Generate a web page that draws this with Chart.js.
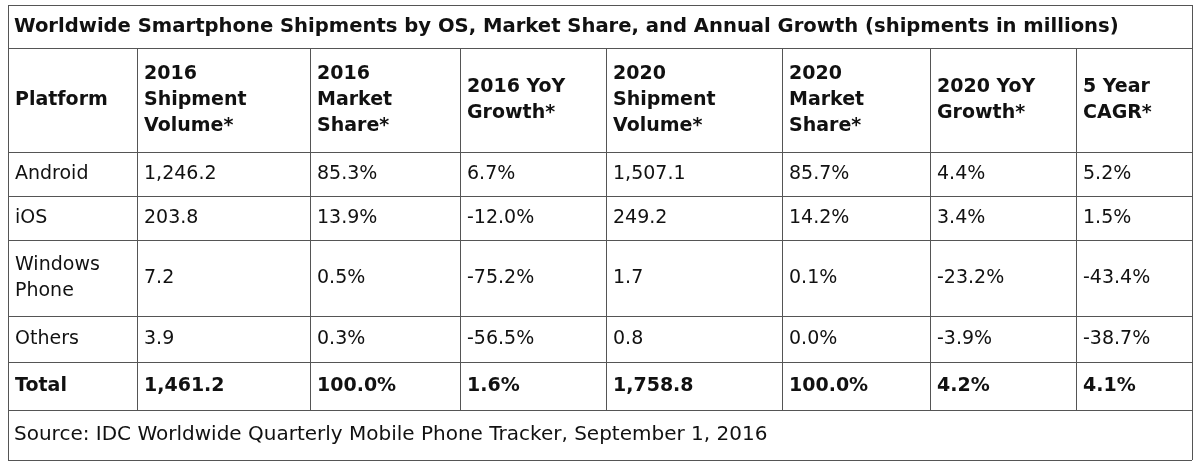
<!DOCTYPE html>
<html>
<head>
<meta charset="utf-8">
<script src="https://cdn.jsdelivr.net/npm/chart.js@4"></script>
<style>
  body { margin: 0; background: #fff; }
  canvas { display: block; }
</style>
</head>
<body>
<canvas id="tabela" width="1200" height="473"></canvas>
<script>
const naslov = "Worldwide Smartphone Shipments by OS, Market Share, and Annual Growth (shipments in millions)";
const zaglavlja = [
    ["Platform"],
    ["2016", "Shipment", "Volume*"],
    ["2016", "Market", "Share*"],
    ["2016 YoY", "Growth*"],
    ["2020", "Shipment", "Volume*"],
    ["2020", "Market", "Share*"],
    ["2020 YoY", "Growth*"],
    ["5 Year", "CAGR*"]
];
const platforme = [["Android"], ["iOS"], ["Windows", "Phone"], ["Others"], ["Total"]];
const volumen2016 = ["1,246.2", "203.8", "7.2", "3.9", "1,461.2"];
const udio2016 = ["85.3%", "13.9%", "0.5%", "0.3%", "100.0%"];
const rast2016 = ["6.7%", "-12.0%", "-75.2%", "-56.5%", "1.6%"];
const volumen2020 = ["1,507.1", "249.2", "1.7", "0.8", "1,758.8"];
const udio2020 = ["85.7%", "14.2%", "0.1%", "0.0%", "100.0%"];
const rast2020 = ["4.4%", "3.4%", "-23.2%", "-3.9%", "4.2%"];
const cagr = ["5.2%", "1.5%", "-43.4%", "-38.7%", "4.1%"];
const izvor = "Source: IDC Worldwide Quarterly Mobile Phone Tracker, September 1, 2016";

// raspored (pikseli)
const kolone = [8, 137, 310, 460, 606, 782, 930, 1076, 1192];
const redovi = [5, 48, 152, 196, 240, 316, 362, 410, 460];
const FONT = '"DejaVu Sans", Verdana, sans-serif';

const tablicaPlugin = {
    id: "tablica",
    afterDraw(chart) {
        const c = chart.ctx;
        c.save();
        c.fillStyle = "#fff";
        c.fillRect(0, 0, chart.width, chart.height);
        c.strokeStyle = "#555";
        c.lineWidth = 1;
        redovi.forEach(y => {
            c.beginPath(); c.moveTo(kolone[0], y + 0.5); c.lineTo(kolone[8], y + 0.5); c.stroke();
        });
        kolone.forEach((x, i) => {
            const top = (i === 0 || i === 8) ? redovi[0] : redovi[1];
            const bot = (i === 0 || i === 8) ? redovi[8] : redovi[7];
            c.beginPath(); c.moveTo(x + 0.5, top); c.lineTo(x + 0.5, bot); c.stroke();
        });
        c.fillStyle = "#111";
        c.textBaseline = "middle";
        c.textAlign = "left";
        const lh = 26;
        const celija = (linije, kol, red, bold) => {
            c.font = (bold ? "bold 19px " : "19px ") + FONT;
            const mid = (redovi[red] + redovi[red + 1]) / 2;
            const start = mid - (linije.length - 1) * lh / 2;
            linije.forEach((t, i) => c.fillText(t, kolone[kol] + 7, start + i * lh));
        };
        c.font = "bold 19.6px " + FONT;
        c.fillText(naslov, 14, (redovi[0] + redovi[1]) / 2);
        zaglavlja.forEach((z, k) => celija(z, k, 1, true));
        const stupci = [volumen2016, udio2016, rast2016, volumen2020, udio2020, rast2020, cagr];
        platforme.forEach((p, r) => {
            const bold = r === platforme.length - 1;
            celija(p, 0, r + 2, bold);
            stupci.forEach((s, k) => celija([s[r]], k + 1, r + 2, bold));
        });
        c.font = "20px " + FONT;
        c.fillText(izvor, 14, (redovi[7] + redovi[8]) / 2);
        c.restore();
    }
};

new Chart(document.getElementById("tabela"), {
    type: "bar",
    data: { labels: platforme.map(p => p.join(" ")), datasets: [{ data: [], label: "" }] },
    options: {
        responsive: false,
        animation: false,
        events: [],
        plugins: { legend: { display: false }, tooltip: { enabled: false } },
        scales: { x: { display: false }, y: { display: false } }
    },
    plugins: [tablicaPlugin]
});
</script>
</body>
</html>
